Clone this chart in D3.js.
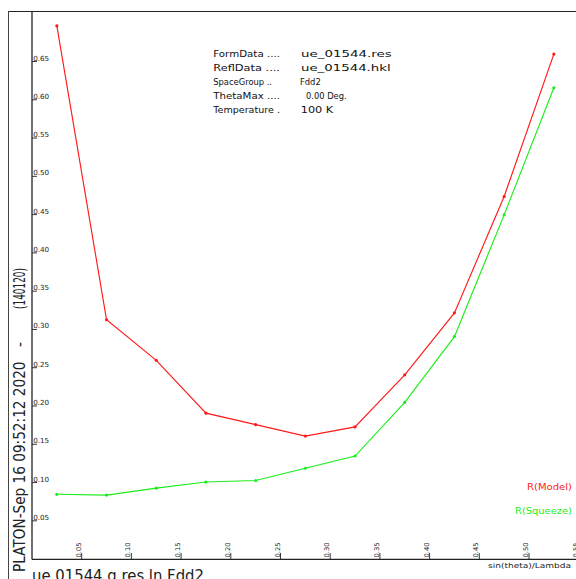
<!DOCTYPE html>
<html>
<head>
<meta charset="utf-8">
<script src="https://cdn.jsdelivr.net/npm/d3@7"></script>
<style>
  html, body { margin: 0; padding: 0; background: #fff; }
  svg { display: block; }
  text { white-space: pre; }
</style>
</head>
<body>
<div id="chart"></div>
<script>
// ---- data ----
const sinThetaLambda = [0.025, 0.075, 0.125, 0.175, 0.225, 0.275, 0.325, 0.375, 0.425, 0.475, 0.525];
const rModel   = [0.696, 0.312, 0.259, 0.190, 0.175, 0.160, 0.172, 0.240, 0.321, 0.473, 0.659];
const rSqueeze = [0.084, 0.083, 0.092, 0.100, 0.102, 0.118, 0.134, 0.204, 0.290, 0.449, 0.615];
const xTicks = [0.05, 0.10, 0.15, 0.20, 0.25, 0.30, 0.35, 0.40, 0.45, 0.50, 0.55];
const yTicks = [0.05, 0.10, 0.15, 0.20, 0.25, 0.30, 0.35, 0.40, 0.45, 0.50, 0.55, 0.60, 0.65];
const infoLabels = ["FormData ....", "ReflData ....", "SpaceGroup ..", "ThetaMax ....", "Temperature ."];
const infoValues = ["ue_01544.res", "ue_01544.hkl", "Fdd2", "0.00 Deg.", "100 K"];
const seriesNames = ["R(Model)", "R(Squeeze)"];
const xTitle = "sin(theta)/Lambda";
const sideText = ["PLATON-Sep 16 09:52:12 2020", "-", "(140120)"];
const footText = "ue 01544 g.res ln Fdd2";

const W = 576, H = 579;
const svg = d3.select("#chart").append("svg").attr("width", W).attr("height", H);

const x = d3.scaleLinear().domain([0, 0.55]).range([32, 578.7]);
const y = d3.scaleLinear().domain([0, 0.65]).range([558.6, 61]);

const axisColor = "#222";
const tickFont = "DejaVu Sans, sans-serif";

// outer frame
svg.append("line").attr("x1", 8).attr("x2", W).attr("y1", 11.5).attr("y2", 11.5)
  .attr("stroke", axisColor).attr("stroke-width", 1);
svg.append("line").attr("x1", 8.5).attr("x2", 8.5).attr("y1", 11).attr("y2", H)
  .attr("stroke", "#444").attr("stroke-width", 1);

// axes
svg.append("line").attr("x1", x(0)).attr("x2", x(0)).attr("y1", 11).attr("y2", 559.5)
  .attr("stroke", axisColor).attr("stroke-width", 1.3);
svg.append("line").attr("x1", x(0)).attr("x2", W).attr("y1", 559.3).attr("y2", 559.3)
  .attr("stroke", axisColor).attr("stroke-width", 1.3);

// y ticks
const yt = svg.append("g");
yTicks.forEach(v => {
  yt.append("line").attr("x1", x(0)).attr("x2", x(0) + 5).attr("y1", y(v) + 0.5).attr("y2", y(v) + 0.5)
    .attr("stroke", axisColor).attr("stroke-width", 0.9);
  yt.append("text").attr("x", x(0) + 1.2).attr("y", y(v) - 0.5)
    .attr("font-family", tickFont).attr("font-size", 7).attr("fill", "#222")
    .attr("textLength", 16).attr("lengthAdjust", "spacingAndGlyphs")
    .text(v.toFixed(2));
});

// x ticks
const xt = svg.append("g");
xTicks.forEach(v => {
  xt.append("line").attr("x1", x(v)).attr("x2", x(v)).attr("y1", 559).attr("y2", 553)
    .attr("stroke", axisColor).attr("stroke-width", 0.9);
  xt.append("text").attr("transform", `translate(${x(v) - 1},${557.5}) rotate(-90)`)
    .attr("font-family", tickFont).attr("font-size", 6.5).attr("fill", "#222")
    .attr("textLength", 15).attr("lengthAdjust", "spacingAndGlyphs")
    .text(v.toFixed(2));
});

// x title
svg.append("text").attr("x", 571).attr("y", 567.5).attr("text-anchor", "end")
  .attr("font-family", tickFont).attr("font-size", 7).attr("fill", "#222")
  .attr("textLength", 83).attr("lengthAdjust", "spacingAndGlyphs")
  .text(xTitle);

// series lines
const colors = ["#ff1a1a", "#1aee1a"];
const series = [rModel, rSqueeze];
const line = d3.line().x(d => x(d[0])).y(d => y(d[1]));
series.forEach((vals, i) => {
  const pts = sinThetaLambda.map((s, j) => [s, vals[j]]);
  svg.append("path").attr("d", line(pts)).attr("fill", "none")
    .attr("stroke", colors[i]).attr("stroke-width", 1.15);
  svg.append("g").selectAll("circle").data(pts).join("circle")
    .attr("cx", d => x(d[0])).attr("cy", d => y(d[1])).attr("r", 1.6)
    .attr("fill", colors[i]);
});

// legend
const legendY = [490, 514];
const legendW = [45, 57];
seriesNames.forEach((n, i) => {
  svg.append("text").attr("x", 572).attr("y", legendY[i]).attr("text-anchor", "end")
    .attr("font-family", tickFont).attr("font-size", 9.5).attr("fill", colors[i])
    .attr("textLength", legendW[i]).attr("lengthAdjust", "spacingAndGlyphs")
    .text(n);
});

// info block
const infoFont = "DejaVu Sans, sans-serif";
const labelW = [66.7, 66.7, 58.7, 66.7, 66.7];
const valueX = [301, 301, 300, 306, 300.7];
const valueW = [90.7, 89.7, 20.7, 40.7, 32.6];
infoLabels.forEach((l, i) => {
  const by = 57.3 + i * 13.9;
  svg.append("text").attr("x", 213.3).attr("y", by)
    .attr("font-family", infoFont).attr("font-size", 9.5).attr("fill", "#111")
    .attr("textLength", labelW[i]).attr("lengthAdjust", "spacingAndGlyphs")
    .text(l);
  svg.append("text").attr("x", valueX[i]).attr("y", by)
    .attr("font-family", infoFont).attr("font-size", 9.5).attr("fill", "#111")
    .attr("textLength", valueW[i]).attr("lengthAdjust", "spacingAndGlyphs")
    .text(infoValues[i]);
});

// side rotated text
const sideStart = [572, 347, 309];
const sideLen = [210.5, 5, 41];
sideText.forEach((t, i) => {
  svg.append("text").attr("transform", `translate(24.5,${sideStart[i]}) rotate(-90)`)
    .attr("font-family", infoFont).attr("font-size", 15).attr("fill", "#222")
    .attr("textLength", sideLen[i]).attr("lengthAdjust", "spacingAndGlyphs")
    .text(t);
});

// footer text
svg.append("text").attr("x", 32).attr("y", 580.5)
  .attr("font-family", infoFont).attr("font-size", 15).attr("fill", "#222")
  .attr("textLength", 172).attr("lengthAdjust", "spacingAndGlyphs")
  .text(footText);
</script>
</body>
</html>
